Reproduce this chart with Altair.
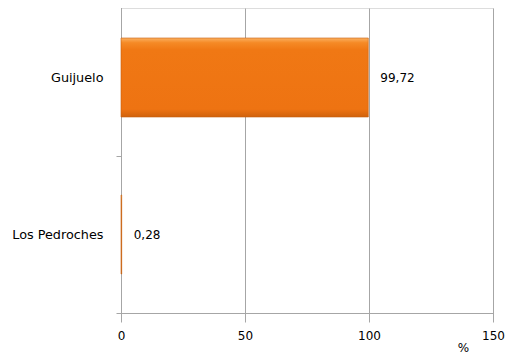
import altair as alt
import pandas as pd

categories = ["Guijuelo", "Los Pedroches"]
values = [99.72, 0.28]
labels = ["99,72", "0,28"]
x_ticks = [0, 50, 100, 150]

df = pd.DataFrame({"cat": categories, "val": values, "lab": labels})

FONT = "DejaVu Sans"
GRID = "#A6A6A6"

y_enc = alt.Y(
    "cat:N",
    sort=categories,
    scale=alt.Scale(paddingInner=0, paddingOuter=0, range=[-9, 305]),
    axis=alt.Axis(
        title=None,
        labelFont=FONT,
        labelFontSize=12.8,
        labelColor="#000000",
        labelPadding=13,
        domainColor=GRID,
        tickColor=GRID,
        tickSize=5,
        tickBand="extent",
        grid=False,
    ),
)

x_enc = alt.X(
    "val:Q",
    scale=alt.Scale(domain=[0, 150], nice=False),
    axis=alt.Axis(
        values=x_ticks,
        title="%",
        titleFont=FONT,
        titleFontSize=12,
        titleFontWeight="normal",
        titleColor="#000000",
        titleX=342,
        titleY=29,
        titleBaseline="top",
        titleAnchor="start",
        titleAlign="center",
        labelFont=FONT,
        labelFontSize=12,
        labelColor="#000000",
        labelPadding=12,
        labelFlush=False,
        labelBound=False,
        domainColor=GRID,
        tickColor=GRID,
        tickSize=5,
        grid=True,
        gridColor=GRID,
        format="d",
    ),
)

bars = alt.Chart(df).mark_bar(
    size=79,
    fill=alt.Gradient(
        gradient="linear",
        x1=0, x2=0, y1=0, y2=1,
        stops=[
            alt.GradientStop(color="#FBB060", offset=0),
            alt.GradientStop(color="#F58A26", offset=0.06),
            alt.GradientStop(color="#F07814", offset=0.15),
            alt.GradientStop(color="#EE7312", offset=0.9),
            alt.GradientStop(color="#D0620C", offset=1),
        ],
    ),
    stroke="#C8600E",
    strokeWidth=0.6,
).encode(x=x_enc, y=y_enc)

text = alt.Chart(df).mark_text(
    align="left", baseline="middle", dx=12, font=FONT, fontSize=12, color="#000000"
).encode(x="val:Q", y=alt.Y("cat:N", sort=categories), text="lab:N")

chart = (
    alt.layer(bars, text)
    .properties(
        width=372,
        height=305,
        autosize=alt.AutoSizeParams(type="none"),
        padding={"left": 113, "top": 0, "right": 12, "bottom": 43},
    )
    .configure_view(stroke=None)
    .configure(background="#FFFFFF")
)

chart.save("out.html", embed_options={"renderer": "svg", "actions": False})
